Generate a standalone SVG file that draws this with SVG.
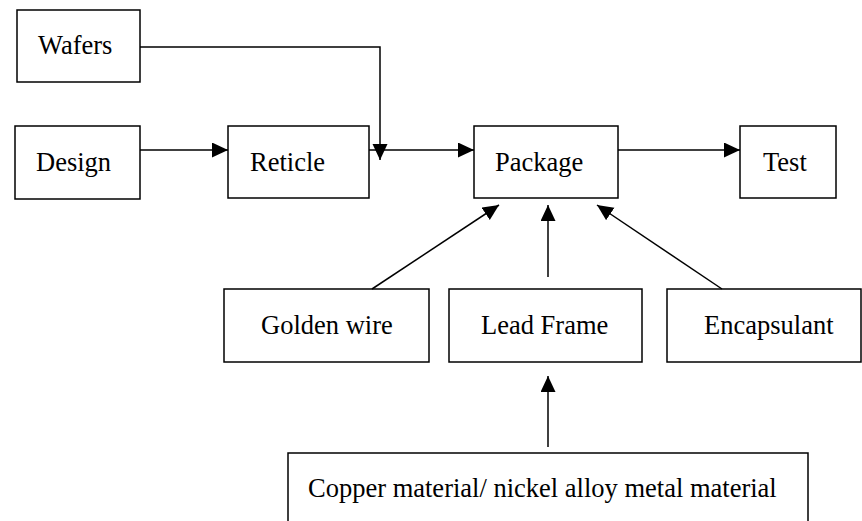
<svg xmlns="http://www.w3.org/2000/svg" width="862" height="521" viewBox="0 0 862 521">
<style>
.box{fill:#fff;stroke:#000;stroke-width:1.5}
.t{font-family:"Liberation Serif","Times New Roman",Times,serif;font-size:26.5px;fill:#000}
.c{fill:none;stroke:#000;stroke-width:1.5}
</style>
<defs>
<marker id="ah" markerUnits="userSpaceOnUse" markerWidth="18" markerHeight="16" refX="16" refY="7.5" orient="auto">
<path d="M0,0 L16,7.5 L0,15 Z" fill="#000"/>
</marker>
</defs>
<rect width="862" height="521" fill="#fff"/>
<g id="wafers"><rect class="box" x="17" y="10" width="123" height="72"/><text class="t" x="38" y="54">Wafers</text></g>
<g id="design"><rect class="box" x="15" y="126" width="125" height="73"/><text class="t" x="36" y="171">Design</text></g>
<g id="reticle"><rect class="box" x="228" y="126" width="141" height="72"/><text class="t" x="250" y="171">Reticle</text></g>
<g id="package"><rect class="box" x="474" y="126" width="144" height="72"/><text class="t" x="495" y="171">Package</text></g>
<g id="test"><rect class="box" x="740" y="126" width="96" height="72"/><text class="t" x="763" y="171">Test</text></g>
<g id="golden-wire"><rect class="box" x="224" y="289" width="205" height="73"/><text class="t" x="261" y="334">Golden wire</text></g>
<g id="lead-frame"><rect class="box" x="449" y="289" width="193" height="73"/><text class="t" x="481" y="334">Lead Frame</text></g>
<g id="encapsulant"><rect class="box" x="667" y="289" width="194" height="73"/><text class="t" x="704" y="334">Encapsulant</text></g>
<g id="copper"><path class="box" d="M288,530 V453 H808 V530"/><text class="t" x="308" y="497">Copper material/ nickel alloy metal material</text></g>
<g id="connectors">
<path class="c" d="M140,47 H380 V160" marker-end="url(#ah)"/>
<path class="c" d="M140,150 H228" marker-end="url(#ah)"/>
<path class="c" d="M369,150 H474" marker-end="url(#ah)"/>
<path class="c" d="M618,150 H740" marker-end="url(#ah)"/>
<path class="c" d="M372,289 L499,205" marker-end="url(#ah)"/>
<path class="c" d="M548,277 V205" marker-end="url(#ah)"/>
<path class="c" d="M722,289 L597,205" marker-end="url(#ah)"/>
<path class="c" d="M548,447 V376" marker-end="url(#ah)"/>
</g>
</svg>
